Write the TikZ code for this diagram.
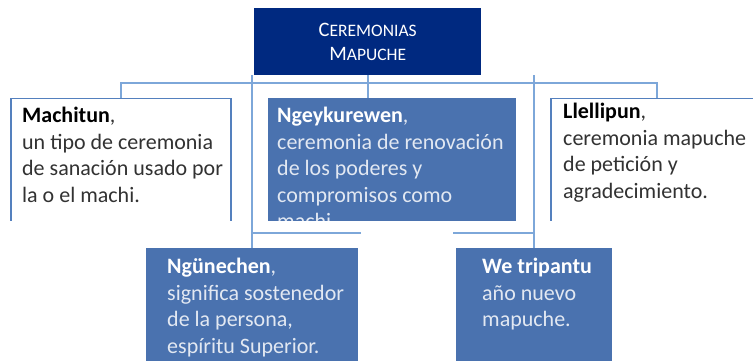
\documentclass[tikz,border=0pt]{standalone}
\usepackage{fontspec}
\setmainfont{Carlito}
\usetikzlibrary{positioning}
\definecolor{navy}{RGB}{0,41,128}
\definecolor{boxblue}{RGB}{74,114,175}
\definecolor{edgeblue}{RGB}{84,128,190}
\definecolor{linkblue}{RGB}{125,167,217}
\definecolor{paletext}{RGB}{226,232,242}
\definecolor{darktext}{RGB}{50,50,50}
\newcommand{\smallcap}[2]{#1{\fontsize{17.5}{24}\selectfont #2}}
\tikzset{
	x=1pt, y=-1pt,
	rootbox/.style={fill=navy, text=white, minimum width=227pt, minimum height=67pt,
		anchor=north west, align=center, inner sep=0pt, font=\fontsize{20.5}{24}\selectfont},
	whitebox/.style={draw=edgeblue, line width=1.5pt, fill=white, anchor=north west, minimum height=140pt},
	bluebox/.style={fill=boxblue, anchor=north west, minimum height=140pt},
	body/.style={anchor=north west, inner sep=0pt, align=left, font=\fontsize{22}{26.5}\selectfont},
	link/.style={draw=linkblue, line width=2pt}}

\begin{document}
\begin{tikzpicture}
	\useasboundingbox (0,0) rectangle (753,361);
	\clip (0,0) rectangle (753,361);
	
	% Root
	\node[rootbox] (root) at (254,8) {\smallcap{C}{EREMONIAS}\\\smallcap{M}{APUCHE}};
	
	% Top row (cut off below)
	\begin{scope}
		\clip (0,0) rectangle (753,220);
		\node[whitebox, minimum width=220pt] (machitun) at (10,98) {};
		\node[bluebox, minimum width=248pt] (ngeyk) at (268,98) {};
		\node[whitebox, minimum width=212pt] (llelli) at (550,98) {};
		
		\node[body, text=darktext, below right=9pt and 12pt of machitun.north west] (machituntext)
			{\textbf{\color{black}Machitun},\\un tipo de ceremonia\\de sanación usado por\\la o el machi.};
		\node[body, text=paletext, below right=9pt and 9pt of ngeyk.north west] (ngeyktext)
			{\textbf{\color{white}Ngeykurewen},\\ceremonia de renovación\\de los poderes y\\compromisos como\\machi.};
		\node[body, text=darktext, below right=5pt and 13pt of llelli.north west] (llellitext)
			{\textbf{\color{black}Llellipun},\\ceremonia mapuche\\de petición y\\agradecimiento.};
	\end{scope}
	
	% Bottom row
	\node[bluebox, minimum width=212pt] (nguen) at (146,248) {};
	\node[bluebox, minimum width=156pt] (wetrip) at (456,248) {};
	
	\node[body, text=paletext, below right=10pt and 21pt of nguen.north west] (nguentext)
		{\textbf{\color{white}Ngünechen},\\significa sostenedor\\de la persona,\\espíritu Superior.};
	\node[body, text=paletext, below right=10pt and 26pt of wetrip.north west] (wetriptext)
		{\textbf{\color{white}We tripantu}\\año nuevo\\mapuche.};
	
	% Connectors
	\draw[link] (machitun.north) -- ++(0,-15) -| (llelli.north);
	\draw[link] (root.south) -- (root.south |- ngeyk.north);
	\draw[link] (root.south -| nguen.north) -- (nguen.north);
	\draw[link] (root.south -| wetrip.north) -- (wetrip.north);
	\draw[link] (nguen.north) ++(0,-15) -- ++(109,0);
	\draw[link] (wetrip.north) ++(0,-15) -- ++(-81,0);
\end{tikzpicture}
\end{document}
